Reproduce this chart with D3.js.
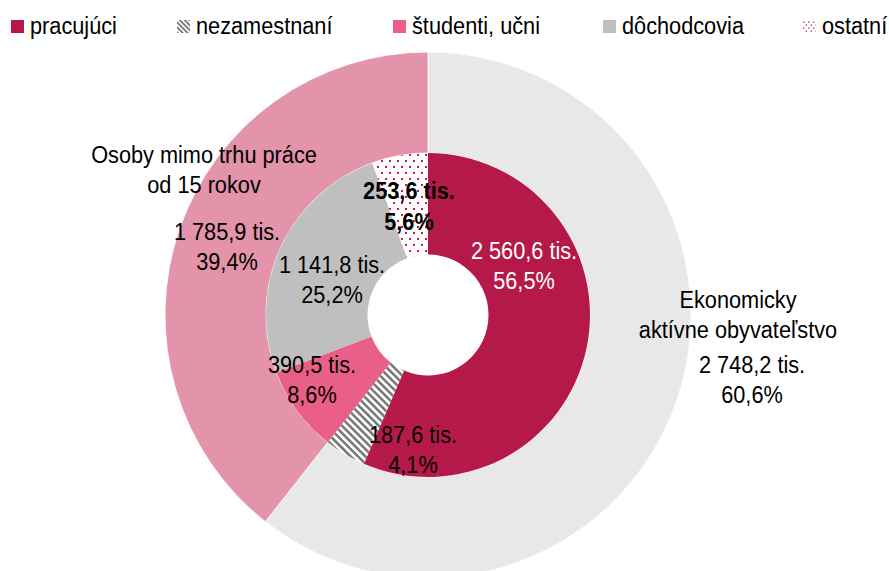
<!DOCTYPE html>
<html><head><meta charset="utf-8">
<script src="https://cdn.jsdelivr.net/npm/d3@7"></script>
<style>body{margin:0;background:#fff}svg{display:block}text{font-family:"Liberation Sans",Arial,sans-serif;font-size:23px}</style>
</head><body>
<svg id="c" width="889" height="571"></svg>
<script>
// ---- data ----
const outerCategories = ["Ekonomicky aktívne obyvateľstvo", "Osoby mimo trhu práce od 15 rokov"];
const outerValues = [2748.2, 1785.9];
const outerValueLabels = ["2 748,2 tis.", "1 785,9 tis."];
const outerPctLabels = ["60,6%", "39,4%"];
const outerNameLines = [["Ekonomicky", "aktívne obyvateľstvo"], ["Osoby mimo trhu práce", "od 15 rokov"]];

const innerCategories = ["pracujúci", "nezamestnaní", "študenti, učni", "dôchodcovia", "ostatní"];
const innerValues = [2560.6, 187.6, 390.5, 1141.8, 253.6];
const innerValueLabels = ["2 560,6 tis.", "187,6 tis.", "390,5 tis.", "1 141,8 tis.", "253,6 tis."];
const innerPctLabels = ["56,5%", "4,1%", "8,6%", "25,2%", "5,6%"];

// ---- styles / layout ----
const cx = 428, cy = 315;
const rHole = 60.5, rMid = 162, rOuter = 263;
const sx = 0.945; // horizontal text compression
const outerColors = ["#e8e8e8", "#e393aa"];
const innerFills = ["#b5194a", "url(#hatch)", "#e95f87", "#bfbfbf", "url(#dots)"];
const legendFills = ["#b5194a", "url(#hatchL)", "#e95f87", "#bfbfbf", "url(#dotsL)"];
const legendX = [11, 177, 393, 603, 803];
// label anchors relative to chart centre (text centre x, first baseline y)
const outerLabelPos = [{nx: 310, ny: -7, vx: 324, vy: 58}, {nx: -224, ny: -152, vx: -201, vy: -75}];
const innerLabelPos = [
  {x: 96, y: -56, color: "#fff", bold: false},
  {x: -15, y: 128, color: "#000", bold: false},
  {x: -116, y: 58, color: "#000", bold: false},
  {x: -96, y: -42, color: "#000", bold: false},
  {x: -19, y: -116, color: "#000", bold: true}
];

const svg = d3.select("#c");
const defs = svg.append("defs");
function hatch(id, s, w) {
  const p = defs.append("pattern").attr("id", id).attr("patternUnits", "userSpaceOnUse")
    .attr("width", s).attr("height", s).attr("patternTransform", "rotate(-45)");
  p.append("rect").attr("width", s).attr("height", s).attr("fill", "#fff");
  p.append("rect").attr("width", w).attr("height", s).attr("fill", "#7a7a7a");
}
function dots(id, w, h, d) {
  const p = defs.append("pattern").attr("id", id).attr("patternUnits", "userSpaceOnUse")
    .attr("width", w).attr("height", h);
  p.append("rect").attr("width", w).attr("height", h).attr("fill", "#fff");
  p.append("rect").attr("x", w * 0.125).attr("y", h * 0.08).attr("width", d).attr("height", d).attr("fill", "#c8174d");
  p.append("rect").attr("x", w * 0.625).attr("y", h * 0.58).attr("width", d).attr("height", d).attr("fill", "#c8174d");
}
hatch("hatch", 5.2, 2.6); dots("dots", 8, 12, 2);
hatch("hatchL", 3.5, 1.8); dots("dotsL", 5, 6, 1.3);

const pie = d3.pie().sort(null).startAngle(0).endAngle(2 * Math.PI);
const outerArc = d3.arc().innerRadius(rMid).outerRadius(rOuter);
const innerArc = d3.arc().innerRadius(rHole).outerRadius(rMid);

const g = svg.append("g").attr("transform", `translate(${cx},${cy})`);
const outerPie = pie(outerValues);
g.selectAll("path.outer").data(outerPie).join("path").attr("class", "outer")
  .attr("d", outerArc).attr("fill", (d, i) => outerColors[i])
  .attr("stroke", "#fff").attr("stroke-width", 0.8);
const innerPie = pie(innerValues);
g.selectAll("path.inner").data(innerPie).join("path").attr("class", "inner")
  .attr("d", innerArc).attr("fill", (d, i) => innerFills[i]);

function label(parent, x, y, str, opts = {}) {
  parent.append("text")
    .attr("transform", `translate(${x},${y}) scale(${sx},1)`)
    .attr("text-anchor", opts.anchor || "middle")
    .attr("fill", opts.color || "#000")
    .attr("font-weight", opts.bold ? "bold" : "normal")
    .text(str);
}

// outer labels
outerPie.forEach((d, i) => {
  const p = outerLabelPos[i];
  outerNameLines[i].forEach((ln, k) => label(g, p.nx, p.ny + k * 30, ln));
  label(g, p.vx, p.vy, outerValueLabels[i]);
  label(g, p.vx, p.vy + 30, outerPctLabels[i]);
});
// inner labels
innerPie.forEach((d, i) => {
  const p = innerLabelPos[i];
  label(g, p.x, p.y, innerValueLabels[i], p);
  label(g, p.x, p.y + (p.bold ? 31 : 30), innerPctLabels[i], p);
});

// legend
const lg = svg.append("g");
innerCategories.forEach((c, i) => {
  lg.append("rect").attr("x", legendX[i]).attr("y", 20).attr("width", 13).attr("height", 13).attr("fill", legendFills[i]);
  label(lg, legendX[i] + 19, 34, c, {anchor: "start"});
});
</script>
</body></html>
